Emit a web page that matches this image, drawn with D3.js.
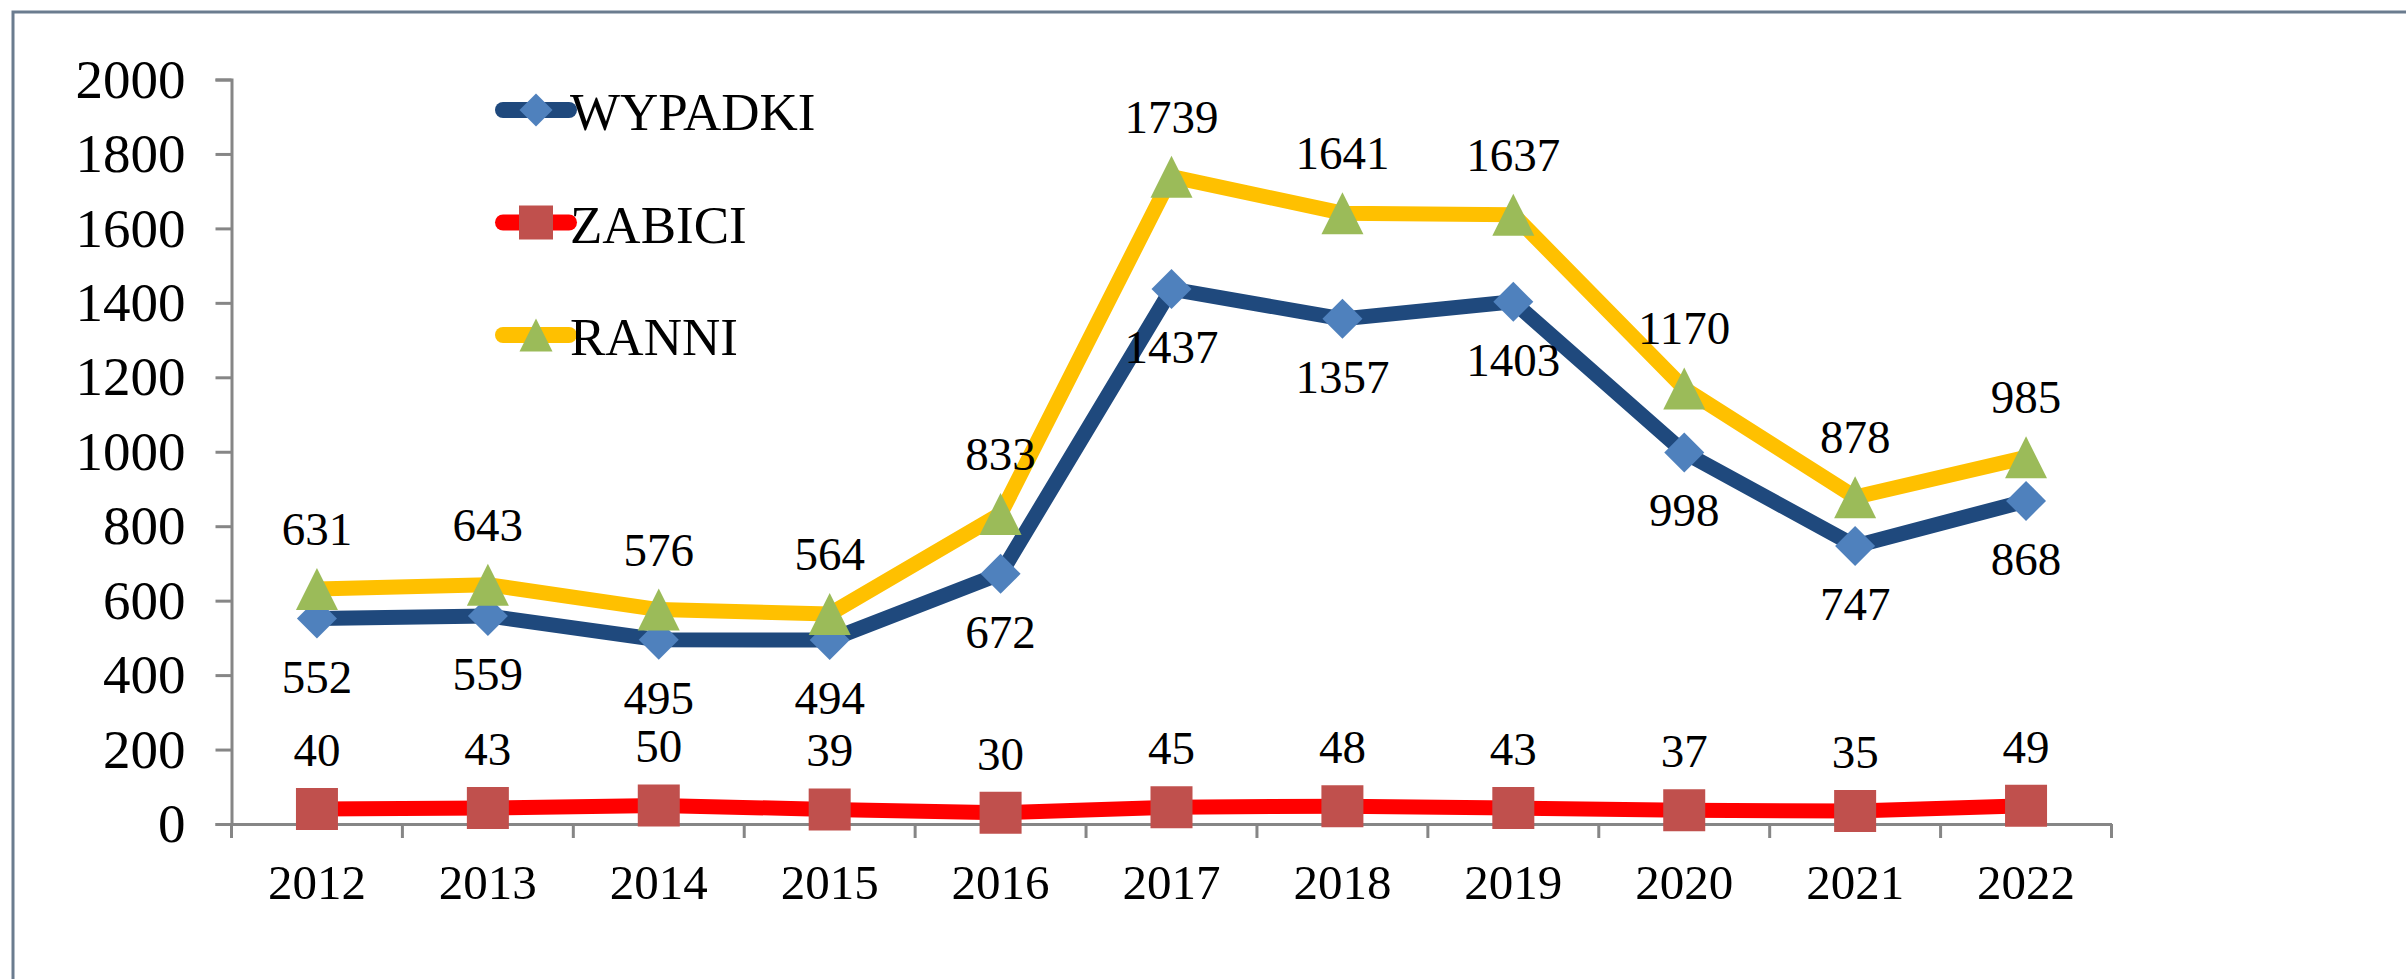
<!DOCTYPE html>
<html>
<head>
<meta charset="utf-8">
<script src="https://cdn.jsdelivr.net/npm/d3@7"></script>
<style>
  body { margin: 0; background: #fff; }
  svg { display: block; }
  text { font-family: 'Liberation Serif', 'Times New Roman', serif; fill: #000; }
</style>
</head>
<body>
<div id="chart"></div>
<script>
'use strict';

// Data
const years = ['2012', '2013', '2014', '2015', '2016', '2017', '2018', '2019', '2020', '2021', '2022'];
const wypadki = [552, 559, 495, 494, 672, 1437, 1357, 1403, 998, 747, 868];
const zabici = [40, 43, 50, 39, 30, 45, 48, 43, 37, 35, 49];
const ranni = [631, 643, 576, 564, 833, 1739, 1641, 1637, 1170, 878, 985];
const yTicks = [0, 200, 400, 600, 800, 1000, 1200, 1400, 1600, 1800, 2000];

const W = 2406, H = 979;
const margin = { top: 79.5, left: 231.5, right: W - 2111.5, bottom: H - 824 };

const svg = d3.select('#chart')
  .append('svg')
  .attr('width', W)
  .attr('height', H);

// Chart frame
svg.append('rect')
  .attr('x', 13).attr('y', 12)
  .attr('width', W).attr('height', H)
  .attr('fill', 'none')
  .attr('stroke', '#6b7c8f')
  .attr('stroke-width', 3);

const x = d3.scaleBand().domain(years).range([margin.left, W - margin.right]).padding(0);
const y = d3.scaleLinear().domain([0, 2000]).range([H - margin.bottom, margin.top]);
const cx = d => x(d) + x.bandwidth() / 2;

// Y axis
svg.append('g')
  .attr('transform', `translate(${margin.left},0)`)
  .call(d3.axisLeft(y).tickValues(yTicks).tickSize(16).tickPadding(30).tickFormat(d3.format('d')))
  .call(g => g.selectAll('.domain, line').attr('stroke', '#868686').attr('stroke-width', 3))
  .call(g => g.selectAll('text').style('font-size', '55px').attr('fill', '#000')
    .style('font-family', "'Liberation Serif', serif"));

// X axis (labels at category centers, ticks between categories)
svg.append('g')
  .attr('transform', `translate(0,${y(0)})`)
  .call(d3.axisBottom(x).tickSize(0).tickSizeOuter(0))
  .call(g => g.select('.domain').attr('stroke', '#868686').attr('stroke-width', 3))
  .call(g => g.selectAll('text').attr('y', 75).attr('dy', 0).style('font-size', '49px')
    .attr('fill', '#000').style('font-family', "'Liberation Serif', serif"));

const bounds = years.map(d => x(d)).concat([x.range()[1]]);
svg.append('g')
  .selectAll('line')
  .data(bounds)
  .join('line')
  .attr('x1', d => d).attr('x2', d => d)
  .attr('y1', y(0)).attr('y2', y(0) + 14)
  .attr('stroke', '#868686')
  .attr('stroke-width', 3);

// marker shapes
const diamond = s => `M0,${-s / 2}L${s / 2},0L0,${s / 2}L${-s / 2},0Z`;
const square = s => `M${-s / 2},${-s / 2}h${s}v${s}h${-s}Z`;
const triangle = s => `M0,${-s / 2}L${s / 2},${s / 2}L${-s / 2},${s / 2}Z`;

const series = [
  { name: 'WYPADKI', values: wypadki, line: '#1f497d', fill: '#4f81bd', shape: diamond, size: 40, legendSize: 33, labelDy: 74 },
  { name: 'ZABICI', values: zabici, line: '#ff0000', fill: '#c0504d', shape: square, size: 42, legendSize: 34, labelDy: -43 },
  { name: 'RANNI', values: ranni, line: '#ffc000', fill: '#9bbb59', shape: triangle, size: 42, legendSize: 33, labelDy: -44 }
];

const line = d3.line()
  .x((d, i) => cx(years[i]))
  .y(d => y(d));

series.forEach(s => {
  const g = svg.append('g');
  g.append('path')
    .datum(s.values)
    .attr('d', line)
    .attr('fill', 'none')
    .attr('stroke', s.line)
    .attr('stroke-width', 15)
    .attr('stroke-linejoin', 'round');

  g.selectAll('.marker')
    .data(s.values)
    .join('path')
    .attr('class', 'marker')
    .attr('transform', (d, i) => `translate(${cx(years[i])},${y(d)})`)
    .attr('d', s.shape(s.size))
    .attr('fill', s.fill);
});

// Data labels on top
series.forEach(s => {
  svg.append('g')
    .selectAll('text')
    .data(s.values)
    .join('text')
    .attr('x', (d, i) => cx(years[i]))
    .attr('y', d => y(d) + s.labelDy)
    .attr('text-anchor', 'middle')
    .style('font-size', '47px')
    .text(d => d);
});

// Legend
const legend = svg.append('g').attr('transform', 'translate(503,110)');
series.forEach((s, i) => {
  const row = legend.append('g').attr('transform', `translate(0,${i * 112.5})`);
  row.append('line')
    .attr('x1', 0).attr('x2', 66)
    .attr('stroke', s.line)
    .attr('stroke-width', 16)
    .attr('stroke-linecap', 'round');
  row.append('path')
    .attr('transform', 'translate(33,0)')
    .attr('d', s.shape(s.legendSize))
    .attr('fill', s.fill);
  row.append('text')
    .attr('x', 67)
    .attr('y', 20)
    .style('font-size', '53px')
    .text(s.name);
});
</script>
</body>
</html>
